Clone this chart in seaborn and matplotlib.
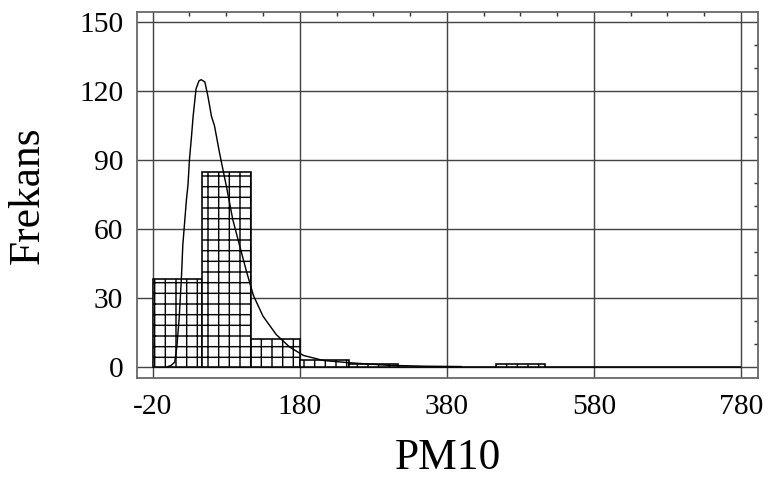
import numpy as np
import pandas as pd
import matplotlib
matplotlib.use("Agg")
import matplotlib.pyplot as plt
import seaborn as sns
from matplotlib.ticker import AutoMinorLocator, FixedLocator

# ---- data ----
bin_edges = np.linspace(-20, 780, 13).tolist()
counts = [38, 85, 12, 3, 1, 0, 0, 1, 0, 0, 0, 0]

curve_x = [0, 5, 10, 13, 16, 19, 21, 24, 26, 28, 30, 33, 35, 39, 43, 46, 51, 55,
           60, 64, 71, 78, 80, 89, 98, 108, 117, 130, 148, 166, 185, 212, 248,
           300, 350, 400]
curve_y = [0, 0.5, 2, 9, 21, 38, 53, 65, 73, 79, 90, 101, 109, 121, 124.5, 125,
           124, 118, 109, 105, 93, 82, 79, 64, 53, 41, 31, 22, 14, 8.6, 4.9, 2.7,
           1.7, 0.6, 0.2, 0.05]

x_ticks = [-20, 180, 380, 580, 780]
y_ticks = [0, 30, 60, 90, 120, 150]
x_label = "PM10"
y_label = "Frekans"

# ---- style ----
sns.set_style("white")
plt.rcParams['font.family'] = ['Liberation Serif', 'DejaVu Serif']
plt.rcParams['hatch.linewidth'] = 0.8
plt.rcParams['hatch.color'] = 'black'
plt.rcParams['text.color'] = 'black'
plt.rcParams['axes.labelcolor'] = 'black'
plt.rcParams['xtick.color'] = 'black'
plt.rcParams['ytick.color'] = 'black'

DPI = 128
fig = plt.figure(figsize=(768 / DPI, 478 / DPI), dpi=DPI)
L, R, T, B = 136.7, 758.3, 11.7, 377.7
ax = fig.add_axes([L / 768, 1 - B / 478, (R - L) / 768, (B - T) / 478])

centers = [(a + b) / 2 for a, b in zip(bin_edges[:-1], bin_edges[1:])]
hist_df = pd.DataFrame({"center": centers, "count": counts})
sns.histplot(data=hist_df, x="center", weights="count", bins=bin_edges, ax=ax,
             color='white', edgecolor='black', hatch='++', linewidth=0.9,
             alpha=1, zorder=2)
curve_df = pd.DataFrame({"x": curve_x, "y": curve_y})
sns.lineplot(data=curve_df, x="x", y="y", ax=ax, color='black', linewidth=0.8,
             sort=False, zorder=3)

ax.set_xlim(-41.7, 803.5)
ax.set_ylim(-4.8, 154.6)
ax.xaxis.set_major_locator(FixedLocator(x_ticks))
ax.yaxis.set_major_locator(FixedLocator(y_ticks))
ax.xaxis.set_minor_locator(AutoMinorLocator(4))
ax.yaxis.set_minor_locator(AutoMinorLocator(3))
ax.set_xticklabels([str(v) for v in x_ticks])
ax.set_yticklabels([str(v) for v in y_ticks])

ax.set_axisbelow(True)
ax.grid(True, which='major', color='#444444', linewidth=0.8)
ax.tick_params(which='both', direction='in', top=True, right=True,
               color='#333333', width=0.8, labelcolor='black')
ax.tick_params(which='major', length=0, labelsize=16.6)
ax.tick_params(axis='x', which='major', pad=9)
ax.tick_params(axis='y', which='major', pad=7.5)
ax.tick_params(which='minor', length=2.3)
for s in ax.spines.values():
    s.set_color('#666666')
    s.set_linewidth(1.0)

ax.set_xlabel(x_label, fontsize=24.5, labelpad=10.5, color='black')
ax.set_ylabel(y_label, fontsize=24.5, labelpad=17.5, color='black')

fig.savefig("out.png", dpi=DPI)
